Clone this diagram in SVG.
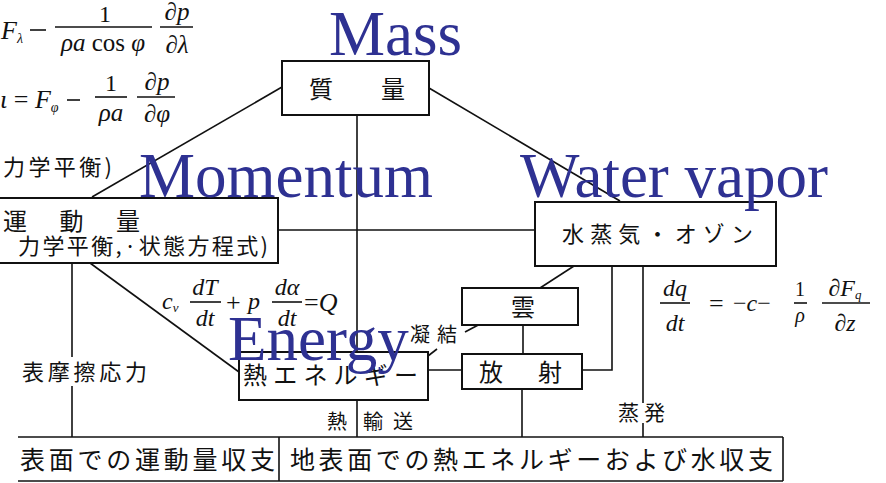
<svg xmlns="http://www.w3.org/2000/svg" width="886" height="483" viewBox="0 0 886 483">
<style>
.box{fill:#fff;stroke:#111;stroke-width:2}
.ln{fill:none;stroke:#111;stroke-width:1.6}
.jp{font-family:"Noto Sans CJK JP","Noto Sans CJK SC",sans-serif;fill:#111}
.m{font-family:"Liberation Serif",serif;font-style:italic;fill:#111}
.mu{font-family:"Liberation Serif",serif;fill:#111}
.en{font-family:"Liberation Serif",serif;fill:#2e3192;font-size:63px}
</style>
<rect width="886" height="483" fill="#fff"/>
<g id="connectors">
<line class="ln" x1="282" y1="87" x2="92" y2="197"/>
<line class="ln" x1="429" y1="88" x2="620" y2="201"/>
<line class="ln" x1="357" y1="115" x2="357" y2="352"/>
<line class="ln" x1="278" y1="230" x2="535" y2="230"/>
<line class="ln" x1="90" y1="263" x2="239" y2="372"/>
<line class="ln" x1="72" y1="263" x2="72" y2="357"/>
<line class="ln" x1="72" y1="386" x2="72" y2="437"/>
<line class="ln" x1="574" y1="266" x2="540" y2="288"/>
<line class="ln" x1="482" y1="323" x2="465" y2="332"/>
<line class="ln" x1="428" y1="356" x2="437" y2="349"/>
<line class="ln" x1="523" y1="325" x2="523" y2="354"/>
<line class="ln" x1="428" y1="370" x2="462" y2="370"/>
<polyline class="ln" points="582,370 612,370 612,266"/>
<line class="ln" x1="643" y1="266" x2="643" y2="403"/>
<line class="ln" x1="643" y1="423" x2="643" y2="437"/>
<line class="ln" x1="522" y1="389" x2="522" y2="437"/>
<line class="ln" x1="357" y1="400" x2="357" y2="437"/>
</g>
<g id="mass">
<rect class="box" x="282" y="61" width="147" height="54"/>
<text class="jp" x="309" y="98" font-size="24">質</text>
<text class="jp" x="381" y="98" font-size="24">量</text>
</g>
<g id="momentum">
<rect class="box" x="-5" y="198" width="283" height="65"/>
<text class="jp" x="3" y="230" font-size="24" textLength="137">運　動　量</text>
<text class="jp" x="18" y="254" font-size="22" textLength="250">力学平衡,·状態方程式)</text>
</g>
<g id="watervapor">
<rect class="box" x="535" y="202" width="241" height="64"/>
<text class="jp" x="562" y="242" font-size="22" textLength="191">水蒸気・オゾン</text>
</g>
<g id="cloud">
<rect class="box" x="462" y="288" width="116" height="37"/>
<text class="jp" x="511" y="316" font-size="24">雲</text>
</g>
<g id="energy">
<rect class="box" x="239" y="352" width="189" height="48"/>
<text class="jp" x="243" y="384" font-size="24" textLength="175">熱エネルギー</text>
</g>
<g id="radiation">
<rect class="box" x="462" y="354" width="120" height="35"/>
<text class="jp" x="479" y="381" font-size="24">放</text>
<text class="jp" x="538" y="381" font-size="24">射</text>
</g>
<g id="bottom">
<line class="ln" x1="18" y1="437" x2="783" y2="437"/>
<line class="ln" x1="18" y1="481" x2="783" y2="481"/>
<line class="ln" x1="279" y1="437" x2="279" y2="481"/>
<line class="ln" x1="783" y1="437" x2="783" y2="481"/>
<text class="jp" x="20" y="469" font-size="25" textLength="255">表面での運動量収支</text>
<text class="jp" x="290" y="469" font-size="25" textLength="483">地表面での熱エネルギーおよび水収支</text>
</g>
<g id="labels">
<text class="jp" x="3" y="175" font-size="22" textLength="109">力学平衡)</text>
<text class="jp" x="22" y="380" font-size="22" textLength="125">表摩擦応力</text>
<text class="jp" x="410" y="342" font-size="20" textLength="47">凝結</text>
<text class="jp" x="327" y="429" font-size="20">熱</text>
<text class="jp" x="363" y="429" font-size="20" textLength="50">輸送</text>
<text class="jp" x="618" y="420" font-size="21" textLength="47">蒸発</text>
</g>
<g id="eq1">
<text class="m" x="1" y="39" font-size="26">F<tspan font-size="14" dy="4">λ</tspan></text>
<line class="ln" x1="30" y1="30" x2="46" y2="30" stroke-width="1.5"/>
<text class="mu" x="105" y="22" font-size="24" text-anchor="middle">1</text>
<line class="ln" x1="55" y1="27" x2="152" y2="27" stroke-width="1.3"/>
<text class="m" x="103" y="51" font-size="25" text-anchor="middle">ρa <tspan font-style="normal">cos</tspan> φ</text>
<text class="m" x="177" y="20" font-size="25" text-anchor="middle">∂p</text>
<line class="ln" x1="160" y1="27" x2="193" y2="27" stroke-width="1.3"/>
<text class="m" x="177" y="53" font-size="25" text-anchor="middle">∂λ</text>
</g>
<g id="eq2">
<text class="m" x="0" y="108" font-size="26">ι<tspan font-style="normal"> = </tspan>F<tspan font-size="14" dy="4">φ</tspan></text>
<line class="ln" x1="67" y1="100" x2="80" y2="100" stroke-width="1.5"/>
<text class="mu" x="111" y="91" font-size="24" text-anchor="middle">1</text>
<line class="ln" x1="95" y1="97" x2="127" y2="97" stroke-width="1.3"/>
<text class="m" x="111" y="121" font-size="25" text-anchor="middle">ρa</text>
<text class="m" x="157" y="90" font-size="25" text-anchor="middle">∂p</text>
<line class="ln" x1="137" y1="97" x2="175" y2="97" stroke-width="1.3"/>
<text class="m" x="157" y="122" font-size="25" text-anchor="middle">∂φ</text>
</g>
<g id="eq3">
<text class="m" x="162" y="309" font-size="24">c<tspan font-size="13" dy="3">v</tspan></text>
<text class="m" x="205" y="295" font-size="24" text-anchor="middle">dT</text>
<line class="ln" x1="190" y1="302" x2="221" y2="302" stroke-width="1.3"/>
<text class="m" x="205" y="326" font-size="24" text-anchor="middle">dt</text>
<text class="mu" x="226" y="311" font-size="26">+</text>
<text class="m" x="248" y="309" font-size="24">p</text>
<text class="m" x="287" y="295" font-size="24" text-anchor="middle">dα</text>
<line class="ln" x1="272" y1="302" x2="302" y2="302" stroke-width="1.3"/>
<text class="m" x="287" y="326" font-size="24" text-anchor="middle">dt</text>
<text class="m" x="304" y="311" font-size="26"><tspan font-style="normal">=</tspan>Q</text>
</g>
<g id="eq4">
<text class="m" x="675" y="296" font-size="24" text-anchor="middle">dq</text>
<line class="ln" x1="660" y1="303" x2="690" y2="303" stroke-width="1.3"/>
<text class="m" x="675" y="331" font-size="24" text-anchor="middle">dt</text>
<text class="mu" x="709" y="312" font-size="26">=</text>
<text class="m" x="733" y="311" font-size="24"><tspan font-style="normal">−</tspan>c<tspan font-style="normal">−</tspan></text>
<text class="mu" x="800" y="296" font-size="20" text-anchor="middle">1</text>
<line class="ln" x1="794" y1="303" x2="807" y2="303" stroke-width="0.8" stroke="#aaa"/>
<text class="m" x="800" y="322" font-size="20" text-anchor="middle">ρ</text>
<text class="m" x="845" y="296" font-size="24" text-anchor="middle">∂F<tspan font-size="13" dy="3">q</tspan></text>
<line class="ln" x1="822" y1="303" x2="870" y2="303" stroke-width="1.3"/>
<text class="m" x="845" y="331" font-size="24" text-anchor="middle">∂z</text>
</g>
<g id="english">
<text class="en" x="329" y="55">Mass</text>
<text class="en" x="139" y="197">Momentum</text>
<text class="en" x="520" y="197">Water vapor</text>
<text class="en" x="228" y="360">Energy</text>
</g>
</svg>
